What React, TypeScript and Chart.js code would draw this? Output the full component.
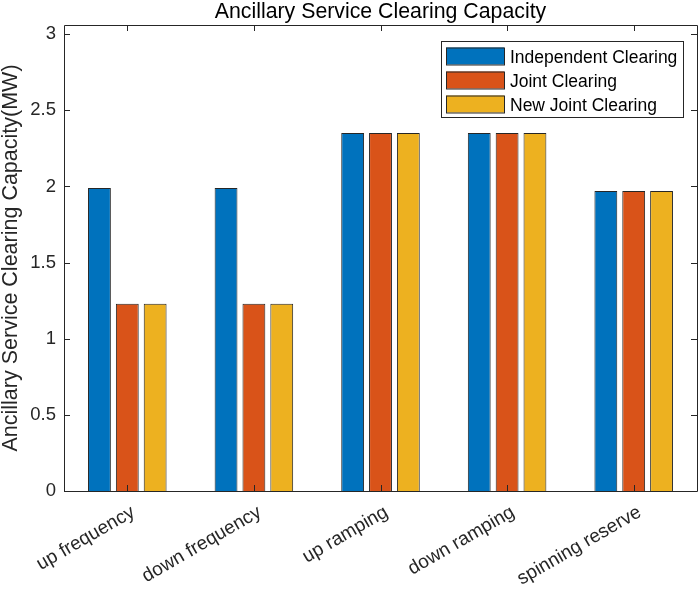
import React, { useEffect, useRef } from 'react';
import { Chart, ChartConfiguration, Plugin, registerables } from 'chart.js';

Chart.register(...registerables);

// chart data
const categories = ['up frequency', 'down frequency', 'up ramping', 'down ramping', 'spinning reserve'];
const seriesNames = ['Independent Clearing', 'Joint Clearing', 'New Joint Clearing'];
const independentValues = [1.99, 1.99, 2.35, 2.35, 1.97];
const jointValues = [1.23, 1.23, 2.35, 2.35, 1.97];
const newJointValues = [1.23, 1.23, 2.35, 2.35, 1.97];
const yTickValues = [0, 0.5, 1, 1.5, 2, 2.5, 3];

const colors = ['#0072BD', '#D95319', '#EDB120'];
const ink = '#262626';
const fontFamily = '"Liberation Sans", Arial, Helvetica, sans-serif';

// MATLAB-like box, inward ticks, title and legend
const matlabAxes: Plugin<'bar'> = {
  id: 'matlabAxes',
  afterDraw(chart) {
    const { ctx, chartArea: a, scales } = chart;
    const x = scales.x;
    const y = scales.y;
    ctx.save();
    ctx.strokeStyle = ink;
    ctx.lineWidth = 1;
    ctx.beginPath();
    ctx.rect(Math.round(a.left) + 0.5, Math.round(a.top) + 0.5, Math.round(a.right - a.left), Math.round(a.bottom - a.top));
    ctx.stroke();

    const tl = 6;
    ctx.beginPath();
    categories.forEach((_, i) => {
      const px = Math.round(x.getPixelForValue(i)) + 0.5;
      ctx.moveTo(px, a.bottom);
      ctx.lineTo(px, a.bottom - tl);
      ctx.moveTo(px, a.top);
      ctx.lineTo(px, a.top + tl);
    });
    yTickValues.forEach((v) => {
      const py = Math.round(y.getPixelForValue(v)) + 0.5;
      ctx.moveTo(a.left, py);
      ctx.lineTo(a.left + tl, py);
      ctx.moveTo(a.right, py);
      ctx.lineTo(a.right - tl, py);
    });
    ctx.stroke();

    // title
    ctx.fillStyle = '#000';
    ctx.font = `21.3px ${fontFamily}`;
    ctx.textAlign = 'center';
    ctx.textBaseline = 'alphabetic';
    ctx.fillText('Ancillary Service Clearing Capacity', (a.left + a.right) / 2, 18);

    // legend
    const lx = 441;
    const ly = 41;
    const lw = 242;
    const lh = 76;
    ctx.fillStyle = '#fff';
    ctx.fillRect(lx, ly, lw, lh);
    ctx.strokeStyle = ink;
    ctx.strokeRect(lx + 0.5, ly + 0.5, lw, lh);
    ctx.font = `17.5px ${fontFamily}`;
    ctx.textAlign = 'left';
    chart.data.datasets.forEach((ds, i) => {
      const cy = ly + 14.5 + i * 24;
      ctx.fillStyle = ds.backgroundColor as string;
      ctx.fillRect(lx + 5, cy - 8, 58, 17);
      ctx.strokeStyle = ink;
      ctx.strokeRect(lx + 5.5, cy - 7.5, 58, 17);
      ctx.fillStyle = '#000';
      ctx.fillText(ds.label as string, lx + 69, cy + 7);
    });
    ctx.restore();
  },
};

const App: React.FC = () => {
  const canvasRef = useRef<HTMLCanvasElement | null>(null);
  const chartRef = useRef<Chart | null>(null);

  useEffect(() => {
    if (!canvasRef.current) return;
    document.body.style.margin = '0';
    if (chartRef.current) chartRef.current.destroy();

    const values = [independentValues, jointValues, newJointValues];
    const config: ChartConfiguration<'bar'> = {
      type: 'bar',
      data: {
        labels: categories,
        datasets: seriesNames.map((name, i) => ({
          label: name,
          data: values[i],
          backgroundColor: colors[i],
          borderColor: ink,
          borderWidth: 1,
          barPercentage: 0.82,
          categoryPercentage: 0.66,
        })),
      },
      options: {
        responsive: false,
        animation: false,
        devicePixelRatio: 1,
        layout: { padding: { top: 25, right: 2, left: 0, bottom: 0 } },
        plugins: {
          legend: { display: false },
          title: { display: false },
          tooltip: { enabled: false },
        },
        scales: {
          x: {
            offset: true,
            grid: { display: false, drawTicks: false },
            border: { display: false },
            afterFit: (s) => {
              s.height = 98;
            },
            ticks: {
              color: ink,
              font: { family: fontFamily, size: 19 },
              minRotation: 30,
              maxRotation: 30,
              padding: 10,
              labelOffset: 6,
            },
          },
          y: {
            min: 0,
            max: 3.06,
            grid: { display: false, drawTicks: false },
            border: { display: false },
            afterFit: (s) => {
              s.width = 64;
            },
            afterBuildTicks: (s) => {
              s.ticks = yTickValues.map((v) => ({ value: v }));
            },
            ticks: {
              color: ink,
              font: { family: fontFamily, size: 18.5 },
              padding: 8,
              callback: (v) => String(v),
            },
            title: {
              display: true,
              text: 'Ancillary Service Clearing Capacity(MW)',
              color: ink,
              font: { family: fontFamily, size: 21.5, lineHeight: 1 },
              padding: { top: 0, bottom: 0 },
            },
          },
        },
      },
      plugins: [matlabAxes],
    };

    chartRef.current = new Chart(canvasRef.current, config);
    return () => {
      if (chartRef.current) {
        chartRef.current.destroy();
        chartRef.current = null;
      }
    };
  }, []);

  return (
    <div style={{ width: 699, height: 589, background: '#fff' }}>
      <canvas ref={canvasRef} width={699} height={589} />
    </div>
  );
};

export default App;
